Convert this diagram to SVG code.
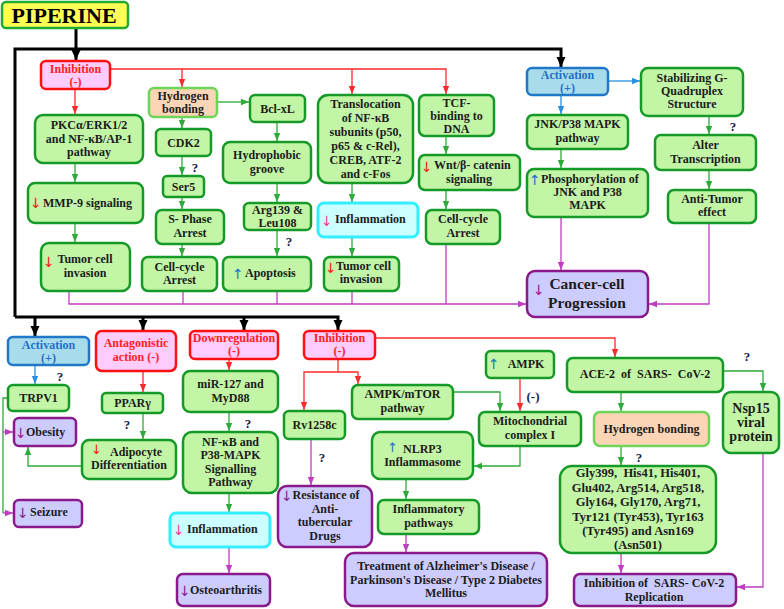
<svg xmlns="http://www.w3.org/2000/svg" width="784" height="609" viewBox="0 0 784 609">
<style>
rect{stroke-width:2.5}
.gr{fill:#c2f5a6;stroke:#159a28}
.pk{fill:#ffccff;stroke:#ff1010}
.bl{fill:#a9dcea;stroke:#1f78c8}
.pe{fill:#fbd5b5;stroke:#6fd45a}
.lv{fill:#ccccff;stroke:#8a1a8a}
.cy{fill:#ccffff;stroke:#33eeff;stroke-width:3}
text{font-family:"Liberation Serif","Times New Roman",serif;font-weight:bold;font-size:12px;fill:#1c1c1c}
.c{text-anchor:middle}
.rt{fill:#ff2020}
.bt{fill:#1f6fc8}
.q{fill:#1a1a50;font-size:13px}
.ar{font-family:"DejaVu Sans",sans-serif;font-weight:normal;font-size:14px}
.ard{fill:#ff1010}.aru{fill:#1f6fc8}.arp{fill:#ff3399}.arv{fill:#8a1a8a}
.k{fill:none;stroke-width:1.3}
.kg{stroke:#2eaa3a}.kr{stroke:#ff2a2a}.km{stroke:#c03cc0}.kb{stroke:#2a8ee0}
.kk{fill:none;stroke:#000;stroke-width:3}
</style>
<defs>
<marker id="mg" markerUnits="userSpaceOnUse" markerWidth="8" markerHeight="8" viewBox="0 0 8 8" refX="8" refY="4" orient="auto"><path d="M0,0.8 L8,4 L0,7.2 z" fill="#2eaa3a"/></marker>
<marker id="mr" markerUnits="userSpaceOnUse" markerWidth="8" markerHeight="8" viewBox="0 0 8 8" refX="8" refY="4" orient="auto"><path d="M0,0.8 L8,4 L0,7.2 z" fill="#ff2a2a"/></marker>
<marker id="mm" markerUnits="userSpaceOnUse" markerWidth="8" markerHeight="8" viewBox="0 0 8 8" refX="8" refY="4" orient="auto"><path d="M0,0.8 L8,4 L0,7.2 z" fill="#c03cc0"/></marker>
<marker id="mb" markerUnits="userSpaceOnUse" markerWidth="8" markerHeight="8" viewBox="0 0 8 8" refX="8" refY="4" orient="auto"><path d="M0,0.8 L8,4 L0,7.2 z" fill="#2a8ee0"/></marker>
<marker id="mk" markerUnits="userSpaceOnUse" markerWidth="10" markerHeight="10" viewBox="0 0 10 10" refX="10" refY="5" orient="auto"><path d="M0,0.5 L10,5 L0,9.5 z" fill="#000"/></marker>
</defs>

<g id="connectors">
<path class="kk" d="M76,28 V60" marker-end="url(#mk)"/>
<path class="kk" d="M15,317 V49 H561 V67" marker-end="url(#mk)"/>
<path class="kk" d="M15,317 H338 V330" marker-end="url(#mk)"/>
<path class="kk" d="M35,317 V336" marker-end="url(#mk)"/>
<path class="kk" d="M143,317 V330" marker-end="url(#mk)"/>
<path class="kk" d="M244,317 V330" marker-end="url(#mk)"/>

<path class="k kr" d="M110,69 H446 V94" marker-end="url(#mr)"/>
<path class="k kr" d="M182,69 V87" marker-end="url(#mr)"/>
<path class="k kr" d="M352,69 V94" marker-end="url(#mr)"/>
<path class="k kr" d="M75,89 V114" marker-end="url(#mr)"/>
<path class="k kr" d="M375,338 H615 V357" marker-end="url(#mr)"/>
<path class="k kr" d="M338,359 V372 H304 V410" marker-end="url(#mr)"/>
<path class="k kr" d="M338,372 H358 V384" marker-end="url(#mr)"/>
<path class="k kr" d="M143,371 V392" marker-end="url(#mr)"/>
<path class="k kr" d="M229,359 V370" marker-end="url(#mr)"/>
<path class="k kr" d="M520,378 V411" marker-end="url(#mr)"/>

<path class="k kg" d="M217,102 H249" marker-end="url(#mg)"/>
<path class="k kg" d="M182,117 V128" marker-end="url(#mg)"/>
<path class="k kg" d="M75,163 V182" marker-end="url(#mg)"/>
<path class="k kg" d="M75,223 V242" marker-end="url(#mg)"/>
<path class="k kg" d="M182,156 V175" marker-end="url(#mg)"/>
<path class="k kg" d="M182,197 V209" marker-end="url(#mg)"/>
<path class="k kg" d="M182,244 V256" marker-end="url(#mg)"/>
<path class="k kg" d="M277,122 V141" marker-end="url(#mg)"/>
<path class="k kg" d="M277,183 V202" marker-end="url(#mg)"/>
<path class="k kg" d="M277,230 V256" marker-end="url(#mg)"/>
<path class="k kg" d="M352,183 V202" marker-end="url(#mg)"/>
<path class="k kg" d="M352,237 V256" marker-end="url(#mg)"/>
<path class="k kg" d="M446,136 V154" marker-end="url(#mg)"/>
<path class="k kg" d="M446,190 V209" marker-end="url(#mg)"/>
<path class="k kg" d="M561,149 V168" marker-end="url(#mg)"/>
<path class="k kg" d="M709,116 V134" marker-end="url(#mg)"/>
<path class="k kg" d="M709,170 V189" marker-end="url(#mg)"/>
<path class="k kg" d="M143,413 V439" marker-end="url(#mg)"/>
<path class="k kg" d="M229,412 V431" marker-end="url(#mg)"/>
<path class="k kg" d="M82,466 H28 V447" marker-end="url(#mg)"/>
<path class="k kg" d="M8,398 H3 V513"/>
<path class="k kg" d="M229,493 V512" marker-end="url(#mg)"/>
<path class="k kg" d="M453,392 H500 V411" marker-end="url(#mg)"/>
<path class="k kg" d="M520,446 V466 H474" marker-end="url(#mg)"/>
<path class="k kg" d="M406,479 V499" marker-end="url(#mg)"/>
<path class="k kg" d="M621,392 V411" marker-end="url(#mg)"/>
<path class="k kg" d="M723,371 H763 V391" marker-end="url(#mg)"/>
<path class="k kg" d="M621,446 V465" marker-end="url(#mg)"/>

<path class="k kb" d="M608,81 H640" marker-end="url(#mb)"/>
<path class="k kb" d="M561,95 V114" marker-end="url(#mb)"/>
<path class="k kb" d="M35,365 V384" marker-end="url(#mb)"/>

<path class="k km" d="M69,291 V304 H526" marker-end="url(#mm)"/>
<path class="k km" d="M183,291 V304"/>
<path class="k km" d="M277,291 V304"/>
<path class="k km" d="M352,291 V304"/>
<path class="k km" d="M446,244 V304"/>
<path class="k km" d="M561,217 V270" marker-end="url(#mm)"/>
<path class="k km" d="M709,223 V304 H649" marker-end="url(#mm)"/>
<path class="k km" d="M3,432 H13" marker-end="url(#mm)"/>
<path class="k km" d="M3,513 H13" marker-end="url(#mm)"/>
<path class="k km" d="M229,547 V573" marker-end="url(#mm)"/>
<path class="k km" d="M311,439 V485" marker-end="url(#mm)"/>
<path class="k km" d="M406,534 V552" marker-end="url(#mm)"/>
<path class="k km" d="M621,553 V573" marker-end="url(#mm)"/>
<path class="k km" d="M763,453 V587 H737" marker-end="url(#mm)"/>
</g>

<g id="labels">
<text class="q c" x="195" y="172">?</text>
<text class="q c" x="289" y="246">?</text>
<text class="q c" x="733" y="131">?</text>
<text class="q c" x="60" y="381">?</text>
<text class="q c" x="127" y="429">?</text>
<text class="q c" x="248" y="428">?</text>
<text class="q c" x="322" y="462">?</text>
<text class="q c" x="747" y="361">?</text>
<text class="q c" x="639" y="462">?</text>
<text class="q c" x="533" y="401">(-)</text>
</g>

<g id="piperine"><rect x="2" y="2" width="126" height="26" rx="4" fill="#ffff55" stroke="#22aa33"/><text class="c" x="64" y="23" style="font-size:22px;fill:#000">PIPERINE</text></g>

<g id="inhibition1"><rect class="pk" x="41" y="61" width="69" height="28" rx="5"/><text class="c rt" x="75.5" y="73">Inhibition</text><text class="c rt" x="75.5" y="86">(-)</text></g>
<g id="hbond1"><rect class="pe" x="149" y="88" width="68" height="29" rx="5"/><text class="c" x="183" y="100">Hydrogen</text><text class="c" x="183" y="113">bonding</text></g>
<g id="bclxl"><rect class="gr" x="250" y="95" width="55" height="27" rx="5"/><text class="c" x="277.5" y="113">Bcl-xL</text></g>
<g id="cdk2"><rect class="gr" x="156" y="129" width="55" height="27" rx="5"/><text class="c" x="183.5" y="147">CDK2</text></g>
<g id="pkc"><rect class="gr" x="35" y="115" width="108" height="48" rx="8"/><text class="c" x="89" y="129">PKCα/ERK1/2</text><text class="c" x="89" y="142.5">and NF-κB/AP-1</text><text class="c" x="89" y="156">pathway</text></g>
<g id="hydrophobic"><rect class="gr" x="223" y="142" width="88" height="41" rx="7"/><text class="c" x="267" y="159">Hydrophobic</text><text class="c" x="267" y="173">groove</text></g>
<g id="translocation"><rect class="gr" x="318" y="95" width="95" height="88" rx="10"/><text class="c" x="365.5" y="108">Translocation</text><text class="c" x="365.5" y="122">of NF-κB</text><text class="c" x="365.5" y="136">subunits (p50,</text><text class="c" x="365.5" y="150">p65 &amp; c-Rel),</text><text class="c" x="365.5" y="164">CREB, ATF-2</text><text class="c" x="365.5" y="178">and c-Fos</text></g>
<g id="tcf"><rect class="gr" x="419" y="95" width="75" height="41" rx="6"/><text class="c" x="456.5" y="107">TCF-</text><text class="c" x="456.5" y="120">binding to</text><text class="c" x="456.5" y="133">DNA</text></g>
<g id="activation1"><rect class="bl" x="527" y="68" width="81" height="27" rx="5"/><text class="c bt" x="567.5" y="79">Activation</text><text class="c bt" x="567.5" y="92">(+)</text></g>
<g id="stabilizing"><rect class="gr" x="641" y="68" width="102" height="48" rx="7"/><text class="c" x="692" y="82">Stabilizing G-</text><text class="c" x="692" y="95">Quadruplex</text><text class="c" x="692" y="108">Structure</text></g>
<g id="jnk"><rect class="gr" x="527" y="115" width="101" height="34" rx="6"/><text class="c" x="577.5" y="128">JNK/P38 MAPK</text><text class="c" x="577.5" y="142">pathway</text></g>
<g id="alter"><rect class="gr" x="655" y="135" width="101" height="35" rx="6"/><text class="c" x="705.5" y="149">Alter</text><text class="c" x="705.5" y="163">Transcription</text></g>
<g id="mmp9"><rect class="gr" x="28" y="183" width="115" height="40" rx="7"/><text class="ar ard" x="30" y="208">↓</text><text x="43" y="207">MMP-9 signaling</text></g>
<g id="ser5"><rect class="gr" x="163" y="176" width="41" height="21" rx="4"/><text class="c" x="183.5" y="191">Ser5</text></g>
<g id="sphase"><rect class="gr" x="156" y="210" width="68" height="34" rx="6"/><text class="c" x="190" y="223">S- Phase</text><text class="c" x="190" y="237">Arrest</text></g>
<g id="arg"><rect class="gr" x="244" y="203" width="67" height="27" rx="5"/><text class="c" x="277.5" y="214">Arg139 &amp;</text><text class="c" x="277.5" y="227">Leu108</text></g>
<g id="tumor1"><rect class="gr" x="41" y="243" width="89" height="48" rx="8"/><text class="ar ard" x="43" y="267">↓</text><text class="c" x="85" y="263">Tumor cell</text><text class="c" x="85" y="277">invasion</text></g>
<g id="cellcycle1"><rect class="gr" x="142" y="257" width="75" height="34" rx="6"/><text class="c" x="179.5" y="271">Cell-cycle</text><text class="c" x="179.5" y="284">Arrest</text></g>
<g id="apoptosis"><rect class="gr" x="223" y="257" width="88" height="34" rx="6"/><text class="ar aru" x="232" y="279">↑</text><text x="245" y="277">Apoptosis</text></g>
<g id="inflammation1"><rect class="cy" x="318" y="203" width="100" height="34" rx="6"/><text class="ar arp" x="321" y="226">↓</text><text x="335" y="223">Inflammation</text></g>
<g id="wnt"><rect class="gr" x="419" y="155" width="101" height="35" rx="6"/><text class="ar ard" x="421" y="172">↓</text><text x="434" y="169">Wnt/β- catenin</text><text class="c" x="469" y="183">signaling</text></g>
<g id="cellcycle2"><rect class="gr" x="426" y="210" width="74" height="34" rx="6"/><text class="c" x="463" y="223">Cell-cycle</text><text class="c" x="463" y="237">Arrest</text></g>
<g id="phosphorylation"><rect class="gr" x="527" y="169" width="121" height="48" rx="7"/><text class="ar aru" x="529" y="185">↑</text><text x="541" y="183">Phosphorylation of</text><text class="c" x="587.5" y="196">JNK and P38</text><text class="c" x="587.5" y="209">MAPK</text></g>
<g id="antitumor"><rect class="gr" x="668" y="190" width="88" height="33" rx="6"/><text class="c" x="712" y="203">Anti-Tumor</text><text class="c" x="712" y="216">effect</text></g>
<g id="tumor2"><rect class="gr" x="324" y="257" width="75" height="34" rx="6"/><text class="ar ard" x="325" y="273">↓</text><text x="336" y="270">Tumor cell</text><text class="c" x="361" y="283">invasion</text></g>
<g id="cancer"><rect class="lv" x="527" y="271" width="121" height="46" rx="8"/><text class="ar arv" x="533" y="295">↓</text><text class="c" x="587" y="289" style="font-size:15.5px">Cancer-cell</text><text class="c" x="587" y="308" style="font-size:15.5px">Progression</text></g>

<g id="activation2"><rect class="bl" x="8" y="337" width="81" height="28" rx="5"/><text class="c bt" x="48.5" y="349">Activation</text><text class="c bt" x="48.5" y="362">(+)</text></g>
<g id="antagonistic"><rect class="pk" x="96" y="331" width="80" height="40" rx="6"/><text class="c rt" x="136" y="347">Antagonistic</text><text class="c rt" x="136" y="361">action (-)</text></g>
<g id="downregulation"><rect class="pk" x="190" y="331" width="88" height="28" rx="5"/><text class="c rt" x="234" y="342">Downregulation</text><text class="c rt" x="234" y="355">(-)</text></g>
<g id="inhibition2"><rect class="pk" x="304" y="331" width="71" height="28" rx="5"/><text class="c rt" x="339.5" y="342">Inhibition</text><text class="c rt" x="339.5" y="355">(-)</text></g>
<g id="trpv1"><rect class="gr" x="8" y="385" width="61" height="26" rx="5"/><text class="c" x="38.5" y="402">TRPV1</text></g>
<g id="ppar"><rect class="gr" x="102" y="393" width="61" height="20" rx="4"/><text class="c" x="132.5" y="407">PPARγ</text></g>
<g id="obesity"><rect class="lv" x="14" y="418" width="62" height="28" rx="5"/><text class="ar arv" x="15" y="438">↓</text><text x="26" y="436">Obesity</text></g>
<g id="mir127"><rect class="gr" x="183" y="371" width="95" height="41" rx="7"/><text class="c" x="230.5" y="388">miR-127 and</text><text class="c" x="230.5" y="402">MyD88</text></g>
<g id="adipocyte"><rect class="gr" x="82" y="440" width="94" height="39" rx="7"/><text class="ar ard" x="91" y="454" style="font-size:13px">↓</text><text class="c" x="136" y="456">Adipocyte</text><text class="c" x="129" y="469">Differentiation</text></g>
<g id="nfkb"><rect class="gr" x="183" y="432" width="95" height="61" rx="9"/><text class="c" x="230.5" y="445.5">NF-κB and</text><text class="c" x="230.5" y="459">P38-MAPK</text><text class="c" x="230.5" y="472.5">Signalling</text><text class="c" x="230.5" y="486">Pathway</text></g>
<g id="rv1258c"><rect class="gr" x="284" y="411" width="61" height="28" rx="5"/><text class="c" x="314.5" y="429">Rv1258c</text></g>
<g id="ampkmtor"><rect class="gr" x="352" y="385" width="101" height="34" rx="6"/><text class="c" x="402.5" y="398">AMPK/mTOR</text><text class="c" x="402.5" y="412">pathway</text></g>
<g id="ampk"><rect class="gr" x="486" y="351" width="68" height="27" rx="5"/><text class="ar aru" x="488" y="369">↑</text><text class="c" x="526" y="368">AMPK</text></g>
<g id="mitochondrial"><rect class="gr" x="479" y="412" width="102" height="34" rx="6"/><text class="c" x="530" y="425">Mitochondrial</text><text class="c" x="530" y="439">complex I</text></g>
<g id="nlrp3"><rect class="gr" x="372" y="432" width="101" height="47" rx="8"/><text class="ar aru" x="387" y="452" style="font-size:13px">↑</text><text x="403" y="453">NLRP3</text><text class="c" x="422.5" y="466">Inflammasome</text></g>
<g id="ace2"><rect class="gr" x="567" y="358" width="156" height="34" rx="6"/><text class="c" x="645" y="378" style="white-space:pre">ACE-2  of  SARS-  CoV-2</text></g>
<g id="hbond2"><rect class="pe" x="594" y="412" width="115" height="34" rx="6"/><text class="c" x="651.5" y="433">Hydrogen bonding</text></g>
<g id="nsp15"><rect class="gr" x="723" y="392" width="56" height="61" rx="8"/><text class="c" x="751" y="413" style="font-size:14px">Nsp15</text><text class="c" x="751" y="427" style="font-size:14px">viral</text><text class="c" x="751" y="441" style="font-size:14px">protein</text></g>
<g id="glyresidues"><rect class="gr" x="560" y="466" width="156" height="87" rx="12"/><text class="c" x="638" y="477" style="font-size:12.5px;white-space:pre">Gly399,  His41, His401,</text><text class="c" x="638" y="491.5" style="font-size:12.5px">Glu402, Arg514, Arg518,</text><text class="c" x="638" y="506" style="font-size:12.5px">Gly164, Gly170, Arg71,</text><text class="c" x="638" y="520.5" style="font-size:12.5px">Tyr121 (Tyr453), Tyr163</text><text class="c" x="638" y="535" style="font-size:12.5px">(Tyr495) and Asn169</text><text class="c" x="638" y="549" style="font-size:12.5px">(Asn501)</text></g>
<g id="inhibitionsars"><rect class="lv" x="574" y="574" width="162" height="32" rx="6"/><text class="c" x="654" y="587" style="white-space:pre">Inhibition of  SARS- CoV-2</text><text class="c" x="654" y="601">Replication</text></g>
<g id="resistance"><rect class="lv" x="278" y="486" width="94" height="61" rx="9"/><text class="ar arv" x="281" y="501">↓</text><text class="c" x="326" y="499">Resistance of</text><text class="c" x="325" y="513">Anti-</text><text class="c" x="325" y="526">tubercular</text><text class="c" x="325" y="540">Drugs</text></g>
<g id="seizure"><rect class="lv" x="14" y="500" width="68" height="27" rx="5"/><text class="ar arv" x="17" y="518">↓</text><text x="30" y="516">Seizure</text></g>
<g id="inflammation2"><rect class="cy" x="170" y="513" width="100" height="34" rx="6"/><text class="ar arp" x="173" y="535">↓</text><text x="187" y="533">Inflammation</text></g>
<g id="osteoarthritis"><rect class="lv" x="177" y="574" width="93" height="32" rx="6"/><text class="ar arv" x="179" y="596">↓</text><text x="190" y="594">Osteoarthritis</text></g>
<g id="treatment"><rect class="lv" x="345" y="553" width="202" height="53" rx="9"/><text class="c" x="446" y="570">Treatment of Alzheimer's Disease /</text><text class="c" x="446" y="583.5">Parkinson's Disease / Type 2 Diabetes</text><text class="c" x="446" y="597">Mellitus</text></g>
<g id="inflammatorypathways"><rect class="gr" x="378" y="500" width="101" height="34" rx="6"/><text class="c" x="428.5" y="513">Inflammatory</text><text class="c" x="428.5" y="527">pathways</text></g>
</svg>
